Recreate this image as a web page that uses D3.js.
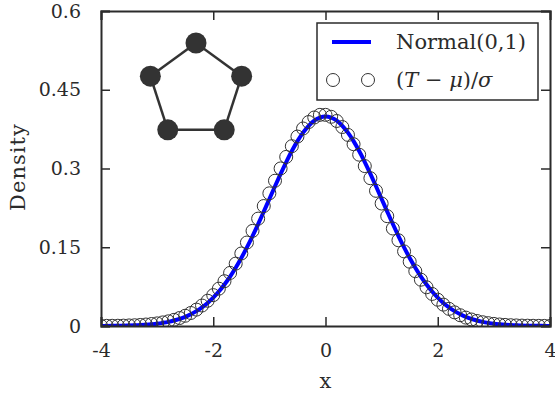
<!DOCTYPE html>
<html>
<head>
<meta charset="utf-8">
<script src="https://cdn.jsdelivr.net/npm/d3@7"></script>
<style>
  body { margin: 0; background: #fff; }
  svg { display: block; font-family: "DejaVu Serif", serif; }
</style>
</head>
<body>
<svg id="chart" width="555" height="394"></svg>
<script>
// x grid shared by both series (step 0.1 from -4 to 4)
const xGrid = d3.range(81).map(i => -4 + i / 10);

// Normal(0,1) density
const normalVals = [
  0.0001, 0.0002, 0.0003, 0.0004, 0.0006, 0.0009, 0.0012, 0.0017, 0.0024, 0.0033,
  0.0044, 0.0060, 0.0079, 0.0104, 0.0136, 0.0175, 0.0224, 0.0283, 0.0355, 0.0440,
  0.0540, 0.0656, 0.0790, 0.0940, 0.1109, 0.1295, 0.1497, 0.1714, 0.1942, 0.2179,
  0.2420, 0.2661, 0.2897, 0.3123, 0.3332, 0.3521, 0.3683, 0.3814, 0.3910, 0.3970,
  0.3989,
  0.3970, 0.3910, 0.3814, 0.3683, 0.3521, 0.3332, 0.3123, 0.2897, 0.2661, 0.2420,
  0.2179, 0.1942, 0.1714, 0.1497, 0.1295, 0.1109, 0.0940, 0.0790, 0.0656, 0.0540,
  0.0440, 0.0355, 0.0283, 0.0224, 0.0175, 0.0136, 0.0104, 0.0079, 0.0060, 0.0044,
  0.0033, 0.0024, 0.0017, 0.0012, 0.0009, 0.0006, 0.0004, 0.0003, 0.0002, 0.0001
];

// standardized statistic (T - mu)/sigma
const empiricalVals = [
  0.0002, 0.0003, 0.0004, 0.0005, 0.0007, 0.0011, 0.0014, 0.0020, 0.0028, 0.0038,
  0.0050, 0.0068, 0.0089, 0.0117, 0.0152, 0.0195, 0.0248, 0.0312, 0.0390, 0.0481,
  0.0588, 0.0711, 0.0853, 0.1011, 0.1188, 0.1381, 0.1590, 0.1812, 0.2045, 0.2285,
  0.2527, 0.2767, 0.3001, 0.3221, 0.3425, 0.3608, 0.3762, 0.3885, 0.3972, 0.4022,
  0.4022,
  0.3985, 0.3905, 0.3790, 0.3640, 0.3463, 0.3263, 0.3046, 0.2815, 0.2575, 0.2333,
  0.2092, 0.1857, 0.1633, 0.1421, 0.1225, 0.1045, 0.0882, 0.0738, 0.0611, 0.0501,
  0.0407, 0.0327, 0.0260, 0.0205, 0.0160, 0.0124, 0.0095, 0.0072, 0.0054, 0.0040,
  0.0029, 0.0021, 0.0015, 0.0011, 0.0008, 0.0006, 0.0004, 0.0003, 0.0002, 0.0001
];

const xTicks = [-4, -2, 0, 2, 4];
const xTickLabels = ["-4", "-2", "0", "2", "4"];
const yTicks = [0, 0.15, 0.3, 0.45, 0.6];
const yTickLabels = ["0", "0.15", "0.3", "0.45", "0.6"];

// inset graph: a 5-cycle laid out on a unit circle
const graphNodes = [
  { id: 0, gx: 0.000, gy: 1.000 },
  { id: 1, gx: 0.951, gy: 0.309 },
  { id: 2, gx: 0.588, gy: -0.809 },
  { id: 3, gx: -0.588, gy: -0.809 },
  { id: 4, gx: -0.951, gy: 0.309 }
];
const graphEdges = [[0, 1], [1, 2], [2, 3], [3, 4], [4, 0]];

const legendLabels = ["Normal(0,1)"];

const ink = "#2b2b2b";
const svg = d3.select("#chart");
const pLeft = 101, pRight = 550, pTop = 11, pBottom = 326;

const x = d3.scaleLinear().domain([-4, 4]).range([pLeft, pRight]);
const y = d3.scaleLinear().domain([0, 0.6]).range([pBottom, pTop]);

svg.append("defs").append("clipPath").attr("id", "plotclip")
  .append("rect").attr("x", pLeft).attr("y", pTop)
  .attr("width", pRight - pLeft).attr("height", pBottom - pTop);

const plot = svg.append("g").attr("clip-path", "url(#plotclip)");

// blue normal curve
plot.append("path")
  .datum(xGrid.map((d, i) => [d, normalVals[i]]))
  .attr("fill", "none")
  .attr("stroke", "#0000ff")
  .attr("stroke-width", 4)
  .attr("d", d3.line().x(d => x(d[0])).y(d => y(d[1])).curve(d3.curveMonotoneX));

// circles
plot.selectAll("circle.emp")
  .data(xGrid.map((d, i) => [d, empiricalVals[i]]))
  .enter().append("circle")
  .attr("class", "emp")
  .attr("cx", d => x(d[0]))
  .attr("cy", d => y(d[1]))
  .attr("r", 6.5)
  .attr("fill", "none")
  .attr("stroke", "#333")
  .attr("stroke-width", 1);

// axes (box with inward ticks on all four sides)
const tickLen = 9;
const axes = svg.append("g");
axes.append("g").attr("transform", `translate(0,${pBottom})`)
  .call(d3.axisBottom(x).tickValues(xTicks).tickSize(-tickLen).tickPadding(18)
    .tickFormat((d, i) => xTickLabels[i]));
axes.append("g").attr("transform", `translate(0,${pTop})`)
  .call(d3.axisTop(x).tickValues(xTicks).tickSize(-tickLen).tickFormat(""));
axes.append("g").attr("transform", `translate(${pLeft},0)`)
  .call(d3.axisLeft(y).tickValues(yTicks).tickSize(-tickLen).tickPadding(20)
    .tickFormat((d, i) => yTickLabels[i]));
axes.append("g").attr("transform", `translate(${pRight},0)`)
  .call(d3.axisRight(y).tickValues(yTicks).tickSize(-tickLen).tickFormat(""));

axes.selectAll(".domain").attr("stroke", ink).attr("stroke-width", 2);
axes.selectAll(".tick line").attr("stroke", ink).attr("stroke-width", 1.5);
axes.selectAll(".tick text").attr("fill", ink).style("font-size", "19px")
  .style("font-family", "DejaVu Serif");

// axis titles
svg.append("text")
  .attr("x", x(0)).attr("y", 388)
  .attr("text-anchor", "middle")
  .attr("fill", ink).style("font-size", "21px")
  .text("x");

svg.append("text")
  .attr("transform", "translate(25,167.5) rotate(-90)")
  .attr("text-anchor", "middle")
  .attr("fill", ink).style("font-size", "21px")
  .attr("textLength", 87).attr("lengthAdjust", "spacing")
  .text("Density");

// inset graph
const gxs = d3.scaleLinear().domain([-1, 1]).range([148, 244]);
const gys = d3.scaleLinear().domain([-1, 1]).range([139, 43]);
const inset = svg.append("g");
inset.selectAll("line")
  .data(graphEdges)
  .enter().append("line")
  .attr("x1", d => gxs(graphNodes[d[0]].gx))
  .attr("y1", d => gys(graphNodes[d[0]].gy))
  .attr("x2", d => gxs(graphNodes[d[1]].gx))
  .attr("y2", d => gys(graphNodes[d[1]].gy))
  .attr("stroke", "#333")
  .attr("stroke-width", 2.5);
inset.selectAll("circle")
  .data(graphNodes)
  .enter().append("circle")
  .attr("cx", d => gxs(d.gx))
  .attr("cy", d => gys(d.gy))
  .attr("r", 10.5)
  .attr("fill", "#333");

// legend
const lg = svg.append("g");
lg.append("rect")
  .attr("x", 317).attr("y", 23).attr("width", 221).attr("height", 77)
  .attr("fill", "#fff").attr("stroke", ink).attr("stroke-width", 1.5);
lg.append("line")
  .attr("x1", 332).attr("x2", 371).attr("y1", 42).attr("y2", 42)
  .attr("stroke", "#0000ff").attr("stroke-width", 4);
lg.append("text")
  .attr("x", 396).attr("y", 49)
  .attr("fill", ink).style("font-size", "21px")
  .text(legendLabels[0]);
lg.selectAll("circle")
  .data([333, 368])
  .enter().append("circle")
  .attr("cx", d => d).attr("cy", 80).attr("r", 6.5)
  .attr("fill", "none").attr("stroke", "#333").attr("stroke-width", 1);
const t2 = lg.append("text")
  .attr("x", 396).attr("y", 87)
  .attr("fill", ink).style("font-size", "21px");
t2.append("tspan").text("(");
t2.append("tspan").style("font-style", "italic").text("T");
t2.append("tspan").text(" \u2212 ");
t2.append("tspan").style("font-style", "italic").text("\u03bc");
t2.append("tspan").text(")/");
t2.append("tspan").style("font-style", "italic").text("\u03c3");
</script>
</body>
</html>
